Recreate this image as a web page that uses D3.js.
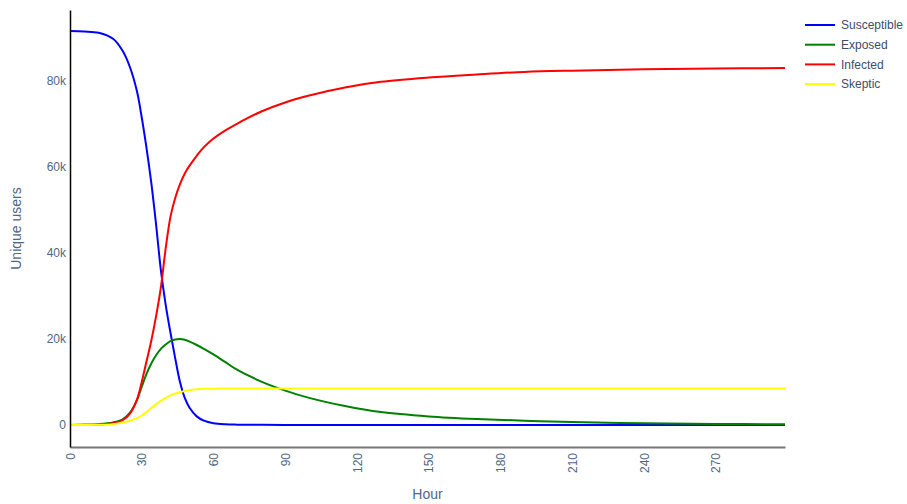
<!DOCTYPE html>
<html>
<head>
<meta charset="utf-8">
<script src="https://cdn.jsdelivr.net/npm/d3@7"></script>
<style>
  body { margin: 0; background: #fff; font-family: "Liberation Sans", Arial, sans-serif; }
  svg text { font-family: "Liberation Sans", Arial, sans-serif; }
</style>
</head>
<body>
<div id="chart"></div>
<script>
// hours sampled along the curves
var hours = [0, 6, 12, 18, 22, 25, 28, 30, 32, 34, 36, 38, 40, 42, 44, 46, 48, 50, 53, 56, 60, 65, 70, 80, 90, 100, 115, 130, 150, 170, 190, 210, 240, 270, 299];

// unique users, in thousands
var susceptible = [91.6, 91.5, 91.2, 89.8, 87.0, 83.3, 77.6, 71.5, 64.4, 56.3, 46.6, 36.0, 28.0, 21.5, 15.5, 10.0, 6.3, 4.0, 2.0, 1.0, 0.4, 0.15, 0.08, 0.04, 0.02, 0.01, 0, 0, 0, 0, 0, 0, 0, 0, 0];
var exposed     = [0, 0.05, 0.2, 0.6, 1.3, 2.8, 5.8, 8.9, 11.9, 14.3, 16.2, 17.7, 18.7, 19.5, 19.9, 20.0, 19.8, 19.4, 18.6, 17.7, 16.4, 14.6, 12.8, 10.1, 8.0, 6.3, 4.4, 3.0, 2.0, 1.4, 1.0, 0.7, 0.4, 0.25, 0.15];
var infected    = [0, 0.05, 0.1, 0.4, 1.1, 2.6, 5.9, 10.0, 14.8, 19.6, 25.3, 32.0, 41.0, 48.4, 52.8, 56.0, 58.5, 60.3, 62.6, 64.6, 66.6, 68.5, 70.1, 72.9, 75.0, 76.6, 78.5, 79.8, 80.8, 81.5, 82.1, 82.4, 82.7, 82.9, 83.0];
var skeptic     = [0, 0, 0.05, 0.2, 0.6, 1.0, 1.6, 2.2, 3.0, 3.9, 4.8, 5.6, 6.3, 6.9, 7.3, 7.6, 7.9, 8.1, 8.3, 8.4, 8.45, 8.5, 8.5, 8.5, 8.5, 8.5, 8.5, 8.5, 8.5, 8.5, 8.5, 8.5, 8.5, 8.5, 8.5];

var seriesNames = ['Susceptible', 'Exposed', 'Infected', 'Skeptic'];
var seriesColors = ['#0000ff', '#008000', '#ff0000', '#ffff00'];
var seriesValues = [susceptible, exposed, infected, skeptic];

var xTicks = [0, 30, 60, 90, 120, 150, 180, 210, 240, 270];
var yTicks = [0, 20000, 40000, 60000, 80000];

var width = 907, height = 504;
var margin = {top: 10, right: 122, bottom: 57, left: 70};
var textColor = '#506784';

var svg = d3.select('#chart').append('svg')
  .attr('width', width)
  .attr('height', height);

var x = d3.scaleLinear()
  .domain([0, 299])
  .range([margin.left, width - margin.right]);

var y = d3.scaleLinear()
  .domain([-5120, 96500])
  .range([height - margin.bottom, margin.top]);

// lines
var line = d3.line()
  .x(function (d) { return x(d[0]); })
  .y(function (d) { return y(d[1]); })
  .curve(d3.curveCatmullRom.alpha(0.5));

var plot = svg.append('g');
seriesValues.forEach(function (vals, i) {
  var pts = hours.map(function (h, j) { return [h, vals[j] * 1000]; });
  plot.append('path')
    .datum(pts)
    .attr('fill', 'none')
    .attr('stroke', seriesColors[i])
    .attr('stroke-width', 2)
    .attr('d', line);
});

// x axis
var xAxis = svg.append('g')
  .attr('transform', 'translate(0,' + (height - margin.bottom) + ')')
  .call(d3.axisBottom(x).tickValues(xTicks).tickSize(0).tickPadding(6));
xAxis.select('.domain').attr('stroke', '#777').attr('stroke-width', 2);
xAxis.selectAll('text')
  .attr('fill', textColor)
  .attr('font-size', 12)
  .attr('transform', 'rotate(-90)')
  .attr('text-anchor', 'end')
  .attr('dy', '0.35em')
  .attr('x', -6)
  .attr('y', 0);

// y axis
var yAxis = svg.append('g')
  .attr('transform', 'translate(' + margin.left + ',0)')
  .call(d3.axisLeft(y).tickValues(yTicks).tickSize(0).tickPadding(4)
    .tickFormat(function (d) { return d === 0 ? '0' : (d / 1000) + 'k'; }));
yAxis.select('.domain').attr('stroke', '#000').attr('stroke-width', 1.5);
yAxis.selectAll('text')
  .attr('fill', textColor)
  .attr('font-size', 12);

// axis titles
svg.append('text')
  .attr('x', (margin.left + width - margin.right) / 2)
  .attr('y', 499)
  .attr('text-anchor', 'middle')
  .attr('fill', textColor)
  .attr('font-size', 14)
  .text('Hour');

svg.append('text')
  .attr('transform', 'translate(21,' + ((margin.top + height - margin.bottom) / 2) + ') rotate(-90)')
  .attr('text-anchor', 'middle')
  .attr('fill', textColor)
  .attr('font-size', 14)
  .text('Unique users');

// legend
var legend = svg.append('g').attr('transform', 'translate(805,25)');
seriesNames.forEach(function (name, i) {
  var row = legend.append('g').attr('transform', 'translate(0,' + (i * 19.7) + ')');
  row.append('line')
    .attr('x1', 0).attr('x2', 30)
    .attr('stroke', seriesColors[i])
    .attr('stroke-width', 2);
  row.append('text')
    .attr('x', 36)
    .attr('dy', '0.35em')
    .attr('fill', '#3d4d69')
    .attr('font-size', 12)
    .text(name);
});
</script>
</body>
</html>
